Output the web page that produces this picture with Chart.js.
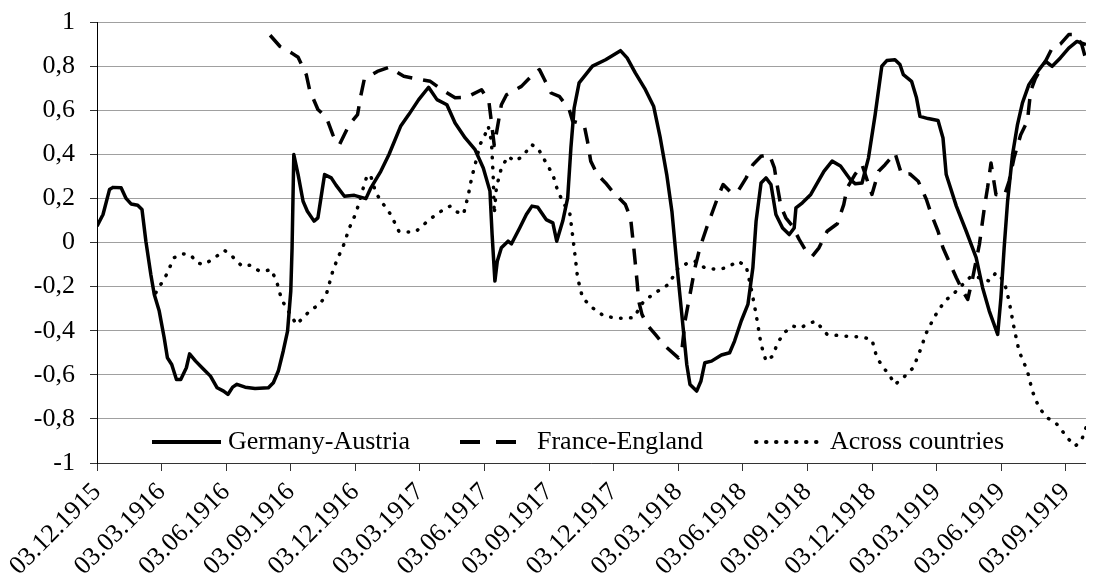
<!DOCTYPE html>
<html>
<head>
<meta charset="utf-8">
<title>Correlations 1915-1919</title>
<script src="https://cdn.jsdelivr.net/npm/chart.js@4.4.1/dist/chart.umd.min.js"></script>
<style>
  html, body { margin: 0; padding: 0; background: #fff; }
  #wrap { position: relative; width: 1094px; height: 585px; }
</style>
</head>
<body>
<div id="wrap"><canvas id="corr-chart"></canvas></div>
<script>
// x values are months counted from 03.12.1915
const tickMonths = [0, 3, 6, 9, 12, 15, 18, 21, 24, 27, 30, 33, 36, 39, 42, 45];
const tickLabels = [
    '03.12.1915', '03.03.1916', '03.06.1916', '03.09.1916',
    '03.12.1916', '03.03.1917', '03.06.1917', '03.09.1917',
    '03.12.1917', '03.03.1918', '03.06.1918', '03.09.1918',
    '03.12.1918', '03.03.1919', '03.06.1919', '03.09.1919'
];
const yTickLabels = ['-1', '-0,8', '-0,6', '-0,4', '-0,2', '0', '0,2', '0,4', '0,6', '0,8', '1'];

const germanyAustriaMonths = [
    0, 0.28, 0.58, 0.74, 1.12, 1.35, 1.58, 1.89, 2.09, 2.27, 2.5, 2.66, 2.89, 3.12, 3.27, 3.47,
    3.69, 3.89, 4.15, 4.3, 4.58, 4.96, 5.27, 5.58, 5.88, 6.08, 6.3, 6.5, 6.88, 7.34, 7.96, 8.19,
    8.42, 8.65, 8.85, 9.0, 9.06, 9.14, 9.34, 9.57, 9.77, 10.08, 10.26, 10.45, 10.57, 10.88, 11.1,
    11.49, 11.95, 12.49, 12.72, 13.18, 13.56, 14.1, 14.48, 14.94, 15.4, 15.79, 16.25, 16.63, 17.1,
    17.56, 17.94, 18.25, 18.35, 18.48, 18.59, 18.78, 19.09, 19.25, 19.63, 19.94, 20.2, 20.47,
    20.86, 21.17, 21.35, 21.63, 21.86, 22.01, 22.16, 22.39, 23.01, 23.62, 24.31, 24.62, 25.0,
    25.47, 25.85, 26.16, 26.46, 26.7, 26.93, 27.16, 27.39, 27.54, 27.85, 28.05, 28.23, 28.54,
    29.0, 29.38, 29.61, 29.92, 30.23, 30.46, 30.61, 30.84, 31.07, 31.3, 31.53, 31.84, 32.15,
    32.38, 32.46, 32.76, 33.15, 33.76, 34.14, 34.53, 34.99, 35.22, 35.53, 35.83, 36.14, 36.45,
    36.68, 37.06, 37.29, 37.45, 37.83, 38.06, 38.22, 38.6, 39.06, 39.29, 39.44, 39.91, 40.37,
    40.83, 41.13, 41.44, 41.83, 41.98, 42.13, 42.29, 42.52, 42.75, 42.98, 43.28, 43.75, 44.05,
    44.36, 44.74, 45.13, 45.51, 45.93
];
const germanyAustriaValues = [
    0.074, 0.127, 0.24, 0.25, 0.248, 0.2, 0.175, 0.169, 0.15, 0.006, -0.145, -0.236, -0.311, -0.432, -0.523, -0.553,
    -0.621, -0.621, -0.568, -0.505, -0.538, -0.576, -0.606, -0.659, -0.674, -0.689, -0.656, -0.643, -0.656, -0.662, -0.659, -0.636,
    -0.583, -0.492, -0.402, -0.22, -0.024, 0.399, 0.308, 0.187, 0.142, 0.097, 0.112, 0.233, 0.308, 0.293, 0.26,
    0.21, 0.214, 0.199, 0.248, 0.323, 0.399, 0.527, 0.58, 0.648, 0.704, 0.648, 0.625, 0.542, 0.474,
    0.421, 0.338, 0.233, 0.036, -0.175, -0.085, -0.024, 0.006, -0.006, 0.066, 0.127, 0.165, 0.16,
    0.104, 0.089, 0.006, 0.097, 0.202, 0.43, 0.61, 0.724, 0.8, 0.829, 0.87, 0.837, 0.769,
    0.693, 0.618, 0.474, 0.308, 0.142, -0.1, -0.326, -0.553, -0.644, -0.674, -0.628, -0.545, -0.538,
    -0.51, -0.5, -0.447, -0.356, -0.281, -0.115, 0.097, 0.27, 0.293, 0.263, 0.127, 0.066, 0.036,
    0.066, 0.157, 0.18, 0.218, 0.323, 0.369, 0.347, 0.285, 0.266, 0.27, 0.384, 0.58, 0.8,
    0.825, 0.829, 0.807, 0.761, 0.731, 0.656, 0.572, 0.562, 0.553, 0.474, 0.308, 0.165, 0.051,
    -0.069, -0.205, -0.311, -0.417, -0.251, -0.024, 0.187, 0.399, 0.535, 0.633, 0.716, 0.784, 0.822,
    0.799, 0.837, 0.882, 0.912, 0.897
];

const franceEnglandMonths = [
    8.04, 8.49, 9.03, 9.34, 9.72, 9.88, 10.26, 10.65, 10.95, 11.1, 11.26, 11.72, 12.1, 12.26, 12.41,
    13.02, 13.56, 14.25, 14.79, 15.48, 16.02, 16.63, 17.17, 17.86, 18.2, 18.45, 18.78, 19.02, 19.71,
    20.09, 20.55, 20.78, 21.09, 21.47, 21.93, 22.09, 22.62, 22.78, 22.93, 23.24, 23.62, 23.93, 24.54,
    24.78, 24.93, 25.08, 25.16, 25.31, 25.54, 25.93, 26.39, 27.0, 27.16, 27.31, 27.54, 27.77, 28.0,
    28.31, 28.54, 28.85, 29.08, 29.46, 29.77, 30.15, 30.46, 30.84, 31.23, 31.46, 31.61, 31.76, 31.99,
    32.3, 32.61, 33.0, 33.22, 33.53, 33.91, 34.38, 34.68, 34.84, 35.22, 35.53, 35.99, 36.3, 36.6,
    37.06, 37.37, 37.75, 38.14, 38.52, 38.75, 39.06, 39.29, 39.6, 39.91, 40.21, 40.44, 40.67, 40.98,
    41.21, 41.36, 41.52, 41.75, 42.13, 42.36, 42.59, 42.9, 43.21, 43.36, 43.59, 44.05, 44.36, 44.74,
    45.13, 45.44, 45.74, 45.93
];
const franceEnglandValues = [
    0.94, 0.89, 0.86, 0.84, 0.761, 0.69, 0.603, 0.568, 0.489, 0.46, 0.444, 0.535, 0.58, 0.67, 0.739,
    0.776, 0.795, 0.754, 0.743, 0.731, 0.693, 0.656, 0.659, 0.693, 0.64, 0.44, 0.625, 0.67, 0.708,
    0.746, 0.784, 0.739, 0.678, 0.663, 0.603, 0.55, 0.535, 0.459, 0.369, 0.308, 0.27, 0.233, 0.172,
    0.112, -0.024, -0.175, -0.266, -0.326, -0.372, -0.417, -0.47, -0.523, -0.492, -0.356, -0.236, -0.115, -0.024,
    0.066, 0.127, 0.21, 0.263, 0.225, 0.233, 0.293, 0.353, 0.391, 0.399, 0.338, 0.248, 0.165, 0.112,
    0.074, 0.014, -0.05, -0.062, -0.024, 0.051, 0.085, 0.172, 0.248, 0.311, 0.353, 0.218, 0.323, 0.353,
    0.406, 0.308, 0.311, 0.278, 0.195, 0.127, 0.051, -0.024, -0.092, -0.16, -0.22, -0.258, -0.16, -0.009,
    0.157, 0.248, 0.361, 0.218, 0.21, 0.278, 0.384, 0.489, 0.55, 0.686, 0.746, 0.822, 0.882, 0.9,
    0.943, 0.943, 0.897, 0.829
];

const acrossCountriesMonths = [
    2.73, 3.19, 3.58, 3.96, 4.35, 4.65, 4.96, 5.35, 5.93, 6.27, 6.73, 7.11, 7.5, 7.8, 8.08, 8.34,
    8.57, 8.88, 9.06, 9.26, 9.57, 9.95, 10.34, 10.65, 10.95, 11.18, 11.41, 11.72, 12.03, 12.26, 12.41,
    12.56, 12.72, 12.95, 13.25, 13.64, 14.02, 14.41, 14.79, 15.18, 15.64, 16.1, 16.4, 16.71, 17.02,
    17.25, 17.4, 17.56, 17.79, 18.02, 18.17, 18.32, 18.4, 18.45, 18.55, 18.78, 19.09, 19.4, 19.78,
    20.17, 20.47, 20.86, 21.17, 21.4, 21.7, 21.95, 22.16, 22.32, 22.55, 23.01, 23.55, 24.24, 24.93,
    25.39, 25.93, 26.54, 27.0, 27.46, 27.77, 28.23, 28.77, 29.23, 29.77, 30.15, 30.38, 30.61, 30.84,
    31.07, 31.38, 31.61, 31.92, 32.3, 32.69, 33.0, 33.38, 33.91, 34.68, 35.53, 35.99, 36.22, 36.53,
    36.83, 37.06, 37.52, 37.91, 38.22, 38.52, 38.91, 39.37, 39.83, 40.21, 40.6, 40.98, 41.44, 41.75,
    42.13, 42.36, 42.59, 42.82, 43.21, 43.44, 43.75, 44.13, 44.52, 44.83, 45.13, 45.44, 45.74, 45.93
];
const acrossCountriesValues = [
    -0.228, -0.153, -0.069, -0.051, -0.057, -0.092, -0.1, -0.077, -0.036, -0.062, -0.107, -0.103, -0.127, -0.13, -0.122, -0.175,
    -0.258, -0.311, -0.338, -0.372, -0.341, -0.304, -0.281, -0.236, -0.13, -0.07, -0.024, 0.066, 0.134, 0.21, 0.263,
    0.308, 0.3, 0.225, 0.18, 0.127, 0.051, 0.048, 0.048, 0.082, 0.119, 0.15, 0.165, 0.139, 0.127,
    0.218, 0.293, 0.353, 0.444, 0.489, 0.527, 0.459, 0.3, 0.13, 0.25, 0.338, 0.391, 0.369, 0.391,
    0.444, 0.429, 0.361, 0.308, 0.233, 0.172, 0.14, -0.024, -0.16, -0.251, -0.296, -0.334, -0.344, -0.341,
    -0.266, -0.228, -0.19, -0.115, -0.092, -0.085, -0.115, -0.122, -0.115, -0.085, -0.107, -0.208, -0.326, -0.462,
    -0.538, -0.515, -0.455, -0.409, -0.379, -0.387, -0.369, -0.357, -0.417, -0.424, -0.429, -0.44, -0.523, -0.568,
    -0.606, -0.644, -0.606, -0.568, -0.492, -0.409, -0.334, -0.266, -0.228, -0.19, -0.153, -0.16, -0.175, -0.137,
    -0.175, -0.266, -0.387, -0.492, -0.583, -0.674, -0.749, -0.795, -0.817, -0.855, -0.893, -0.923, -0.893, -0.84
];

const serif = '"Liberation Serif", "Times New Roman", serif';

const toPoints = (months, values) => months.map((m, i) => ({ x: m, y: values[i] }));

// legend sits inside the plot, along its bottom edge
const legendSpots = [
    { x1: 152, x2: 221, tx: 228 },
    { x1: 460, x2: 517, tx: 537 },
    { x1: 756, x2: 820, tx: 830 }
];

const insideLegend = {
    id: 'insideLegend',
    afterDatasetsDraw(chart) {
        const ctx = chart.ctx;
        const y = 442;
        ctx.save();
        chart.data.datasets.forEach((ds, i) => {
            const spot = legendSpots[i];
            ctx.beginPath();
            ctx.setLineDash(ds.legendDash || ds.borderDash || []);
            ctx.lineWidth = ds.borderWidth + 0.5;
            ctx.lineCap = ds.borderCapStyle || 'butt';
            ctx.strokeStyle = ds.borderColor;
            ctx.moveTo(spot.x1, y);
            ctx.lineTo(spot.x2, y);
            ctx.stroke();
            ctx.setLineDash([]);
            ctx.fillStyle = '#000';
            ctx.font = '26px ' + serif;
            ctx.textBaseline = 'middle';
            ctx.fillText(ds.label, spot.tx, y);
        });
        ctx.restore();
    }
};

new Chart(document.getElementById('corr-chart'), {
    type: 'line',
    data: {
        datasets: [
            {
                label: 'Germany-Austria',
                data: toPoints(germanyAustriaMonths, germanyAustriaValues),
                borderColor: '#000',
                borderWidth: 3.5,
                borderJoinStyle: 'round'
            },
            {
                label: 'France-England',
                data: toPoints(franceEnglandMonths, franceEnglandValues),
                borderColor: '#000',
                borderWidth: 3.5,
                borderDash: [16, 11],
                legendDash: [20, 16],
                borderJoinStyle: 'round'
            },
            {
                label: 'Across countries',
                data: toPoints(acrossCountriesMonths, acrossCountriesValues),
                borderColor: '#000',
                borderWidth: 3.5,
                borderDash: [0.5, 9.5],
                borderCapStyle: 'round',
                borderJoinStyle: 'round'
            }
        ]
    },
    options: {
        responsive: true,
        maintainAspectRatio: false,
        animation: false,
        layout: { padding: { top: 22, right: 0, bottom: 0, left: 0 } },
        elements: {
            point: { radius: 0 },
            line: { tension: 0, fill: false }
        },
        plugins: {
            legend: { display: false },
            tooltip: { enabled: false }
        },
        scales: {
            x: {
                type: 'linear',
                min: 0,
                max: 45.93,
                afterBuildTicks: (scale) => {
                    scale.ticks = tickMonths.map(v => ({ value: v }));
                },
                afterFit: (scale) => { scale.height = 122; },
                border: { display: true, color: '#333', width: 1 },
                grid: {
                    drawOnChartArea: false,
                    drawTicks: true,
                    tickLength: 8,
                    tickColor: '#333'
                },
                ticks: {
                    minRotation: 45,
                    maxRotation: 45,
                    padding: 6,
                    color: '#000',
                    font: { family: serif, size: 26 },
                    callback: (value, index) => tickLabels[index]
                }
            },
            y: {
                min: -1,
                max: 1,
                afterFit: (scale) => {
                    scale.width = 97;
                    // keep the tick label gap from pushing the plot down
                    scale.paddingTop = 0;
                    scale.paddingBottom = 0;
                },
                border: { display: true, color: '#000', width: 1 },
                grid: {
                    color: '#a0a0a0',
                    lineWidth: 1,
                    tickLength: 7,
                    tickColor: '#333'
                },
                ticks: {
                    stepSize: 0.2,
                    padding: 15,
                    color: '#000',
                    font: { family: serif, size: 26 },
                    callback: (value, index) => yTickLabels[index]
                }
            }
        }
    },
    plugins: [insideLegend]
});
</script>
</body>
</html>
